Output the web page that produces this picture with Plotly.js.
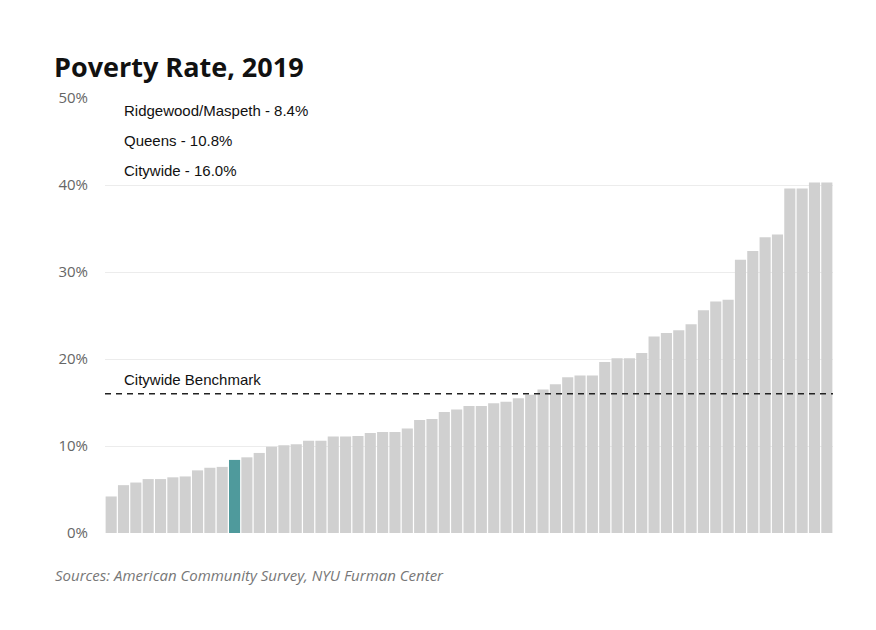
<!DOCTYPE html>
<html>
<head>
<meta charset="utf-8">
<script src="https://cdn.plot.ly/plotly-3.0.1.min.js"></script>
<style>html,body{margin:0;padding:0;background:#fff;}#chart{width:876px;height:630px;}</style>
</head>
<body>
<div id="chart"></div>
<script>
// Poverty rate by community district, sorted ascending (%)
const districtIndex = [];
const povertyRates = [4.2,5.5,5.8,6.2,6.2,6.4,6.5,7.2,7.5,7.6,8.4,8.7,9.2,9.9,10.1,10.2,10.6,10.6,11.1,11.1,
  11.15,11.5,11.6,11.6,12.0,13.0,13.1,13.9,14.2,14.6,14.6,14.9,15.1,15.5,15.9,16.5,17.1,17.9,18.1,18.1,
  19.65,20.1,20.1,20.7,22.6,23.0,23.3,24.0,25.6,26.6,26.8,31.4,32.4,34.0,34.3,39.6,39.6,40.3,40.3];
for (let i = 0; i < povertyRates.length; i++) districtIndex.push(i);
const highlightIndex = 10;
const benchmark = 16.0;
const tickVals = [0, 10, 20, 30, 40, 50];
const tickText = ['0%', '10%', '20%', '30%', '40%', '50%'];
const legendLines = ['Ridgewood/Maspeth - 8.4%', 'Queens - 10.8%', 'Citywide - 16.0%'];

const colors = povertyRates.map((v, i) => i === highlightIndex ? '#4f9a9c' : '#d0d0d0');

const trace = {
  type: 'bar',
  x: districtIndex,
  y: povertyRates,
  marker: {color: colors, line: {width: 0}},
  hoverinfo: 'y'
};

const annotations = legendLines.map((t, i) => ({
  xref: 'paper', yref: 'paper', x: 0.024, y: 0.971 - i * 0.069,
  xanchor: 'left', yanchor: 'middle', showarrow: false,
  text: t, font: {family: 'Liberation Sans, Arial, sans-serif', size: 15, color: '#111'}
}));
annotations.push({
  xref: 'paper', yref: 'y', x: 0.024, y: benchmark, yshift: 14,
  xanchor: 'left', yanchor: 'middle', showarrow: false,
  text: 'Citywide Benchmark', font: {family: 'Liberation Sans, Arial, sans-serif', size: 15, color: '#111'}
});
annotations.push({
  xref: 'paper', yref: 'paper', x: -0.072, y: -0.097,
  xanchor: 'left', yanchor: 'middle', showarrow: false,
  text: '<i>Sources: American Community Survey, NYU Furman Center</i>',
  font: {family: 'Open Sans, Lato, sans-serif', size: 15, color: '#777'}
});

const layout = {
  width: 876, height: 630,
  paper_bgcolor: '#fff', plot_bgcolor: '#fff',
  margin: {l: 105, r: 43, t: 98, b: 97},
  title: {
    text: '<b>Poverty Rate, 2019</b>',
    x: 54 / 876, xanchor: 'left', xref: 'container',
    y: 1 - 68 / 630, yanchor: 'middle', yref: 'container',
    font: {family: 'Open Sans, Lato, sans-serif', size: 27, color: '#111'}
  },
  bargap: 0.1,
  showlegend: false,
  xaxis: {
    range: [-0.5, povertyRates.length - 0.5],
    showticklabels: false, showgrid: false, zeroline: false, ticks: '', fixedrange: true
  },
  yaxis: {
    range: [0, 50],
    tickvals: tickVals, ticktext: tickText,
    showgrid: true, gridcolor: '#ececec', gridwidth: 1,
    zeroline: false, ticks: '', ticklabelstandoff: 16,
    tickfont: {family: 'Open Sans, Lato, sans-serif', size: 15, color: '#666'}
  },
  shapes: [{
    type: 'line', xref: 'paper', yref: 'y', x0: 0, x1: 1, y0: benchmark, y1: benchmark,
    line: {color: '#222', width: 1.5, dash: '6px,5px'}
  }],
  annotations: annotations
};

Plotly.newPlot('chart', [trace], layout, {displayModeBar: false, staticPlot: true});
</script>
</body>
</html>
